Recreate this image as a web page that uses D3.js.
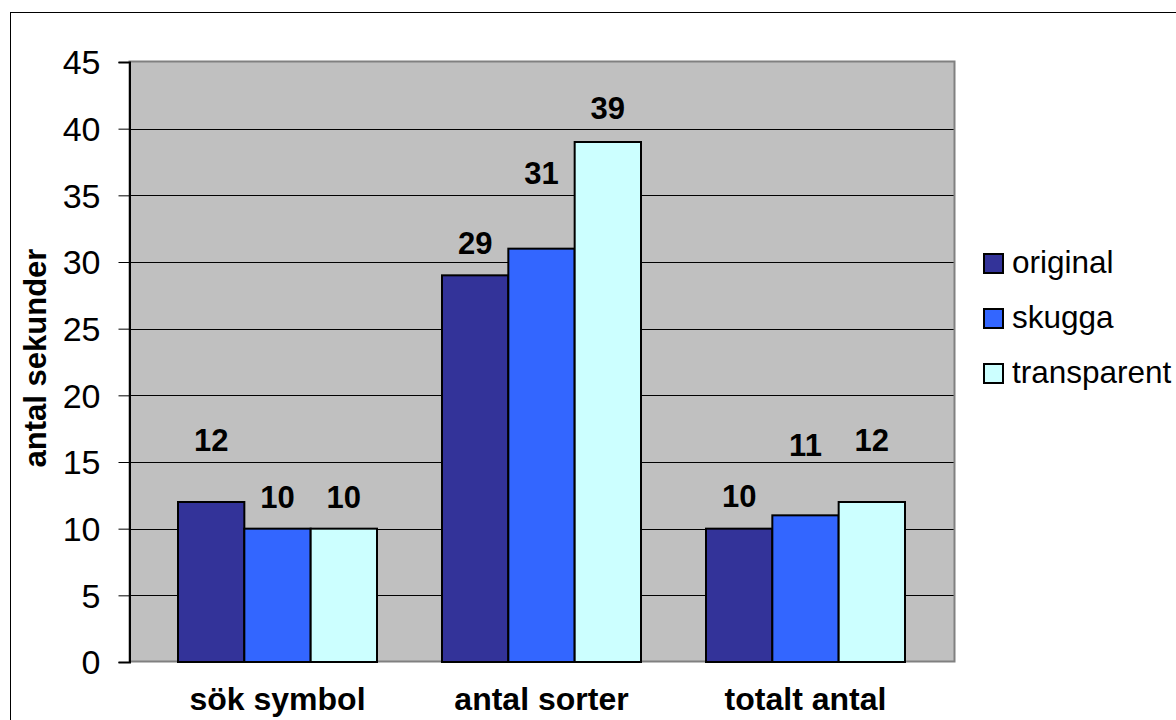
<!DOCTYPE html>
<html>
<head>
<meta charset="utf-8">
<script src="https://cdn.jsdelivr.net/npm/d3@7/dist/d3.min.js"></script>
<style>
  html, body { margin: 0; padding: 0; background: #fff; }
  svg { display: block; }
  text { font-family: "Liberation Sans", Arial, sans-serif; fill: #000; }
</style>
</head>
<body>
<svg id="chart" width="1176" height="720"></svg>
<script>
// ---- data ----
const categories = ["sök symbol", "antal sorter", "totalt antal"];
const seriesNames = ["original", "skugga", "transparent"];
const original = [12, 29, 10];
const skugga = [10, 31, 11];
const transparent = [10, 39, 12];
const yTicks = [0, 5, 10, 15, 20, 25, 30, 35, 40, 45];
const yTitle = "antal sekunder";
// where each value label sits, in data units
const originalLabelAt = [16.65, 31.4, 12.45];
const skuggaLabelAt = [12.4, 36.7, 16.25];
const transparentLabelAt = [12.4, 41.55, 16.65];

const seriesValues = [original, skugga, transparent];
const seriesLabelAt = [originalLabelAt, skuggaLabelAt, transparentLabelAt];
const colors = ["#333399", "#3366FF", "#CCFFFF"];

const svg = d3.select("#chart");
const plot = { left: 129, right: 954, top: 62, bottom: 662 };

// outer chart border
svg.append("rect")
  .attr("x", 10.5).attr("y", 12.5)
  .attr("width", 1300).attr("height", 900)
  .attr("fill", "none").attr("stroke", "#000").attr("stroke-width", 1);

const y = d3.scaleLinear().domain([0, 45]).range([plot.bottom, plot.top]);
const x0 = d3.scaleBand().domain(categories).range([plot.left, plot.right])
  .paddingInner(0).paddingOuter(0.0625);
const x1 = d3.scaleBand().domain(seriesNames).range([0, x0.bandwidth()])
  .paddingInner(0).paddingOuter(0.49);

// plot background
svg.append("rect")
  .attr("x", plot.left).attr("y", plot.top)
  .attr("width", plot.right - plot.left).attr("height", plot.bottom - plot.top)
  .attr("fill", "#C0C0C0");

// gridlines
svg.append("g")
  .selectAll("line").data(yTicks.filter(t => t > 0 && t < 45)).join("line")
  .attr("x1", plot.left).attr("x2", plot.right)
  .attr("y1", d => Math.round(y(d)) + 0.5).attr("y2", d => Math.round(y(d)) + 0.5)
  .attr("stroke", "#000").attr("stroke-width", 1);

// plot border (gray)
svg.append("rect")
  .attr("x", plot.left + 0.5).attr("y", plot.top - 0.5)
  .attr("width", plot.right - plot.left).attr("height", plot.bottom - plot.top)
  .attr("fill", "none").attr("stroke", "#808080").attr("stroke-width", 2);

// bars
const groups = svg.append("g").selectAll("g").data(categories).join("g")
  .attr("transform", d => `translate(${x0(d)},0)`);

groups.selectAll("rect")
  .data((c, i) => seriesNames.map((s, j) => ({ s, j, v: seriesValues[j][i] })))
  .join("rect")
  .attr("x", d => x1(d.s))
  .attr("y", d => y(d.v))
  .attr("width", x1.bandwidth())
  .attr("height", d => y(0) - y(d.v))
  .attr("fill", d => colors[d.j])
  .attr("stroke", "#000").attr("stroke-width", 2);

// value labels
groups.selectAll("text.val")
  .data((c, i) => seriesNames.map((s, j) => ({ s, j, v: seriesValues[j][i], at: seriesLabelAt[j][i] })))
  .join("text").attr("class", "val")
  .attr("x", d => x1(d.s) + x1.bandwidth() / 2)
  .attr("y", d => y(d.at) + 11)
  .attr("text-anchor", "middle")
  .attr("font-size", 31).attr("font-weight", "bold")
  .text(d => d.v);

// y axis
const yAxis = d3.axisLeft(y).tickValues(yTicks).tickSize(11).tickPadding(18).tickFormat(d3.format("d"));
const gy = svg.append("g").attr("transform", `translate(${plot.left + 0.5},0)`).call(yAxis);
gy.select(".domain").attr("stroke", "#000").attr("stroke-width", 2);
gy.selectAll(".tick line").attr("stroke", "#000").attr("stroke-width", 1);
gy.selectAll(".tick text")
  .attr("font-family", "Liberation Sans, Arial, sans-serif")
  .attr("font-size", 34).attr("fill", "#000").attr("dy", "0.35em");

// x axis category labels
svg.append("g").selectAll("text").data(categories).join("text")
  .attr("x", d => x0(d) + x0.bandwidth() / 2)
  .attr("y", plot.bottom + 48)
  .attr("text-anchor", "middle")
  .attr("font-size", 32).attr("font-weight", "bold")
  .text(d => d);

// y title
svg.append("text")
  .attr("transform", `translate(46,358) rotate(-90)`)
  .attr("text-anchor", "middle")
  .attr("font-size", 31).attr("font-weight", "bold")
  .text(yTitle);

// legend
const legend = svg.append("g").selectAll("g").data(seriesNames).join("g")
  .attr("transform", (d, i) => `translate(984,${254 + i * 55})`);
legend.append("rect")
  .attr("width", 19).attr("height", 19)
  .attr("fill", (d, i) => colors[i])
  .attr("stroke", "#000").attr("stroke-width", 2);
legend.append("text")
  .attr("x", 28).attr("y", 19)
  .attr("font-size", 31.5)
  .text(d => d);
</script>
</body>
</html>
